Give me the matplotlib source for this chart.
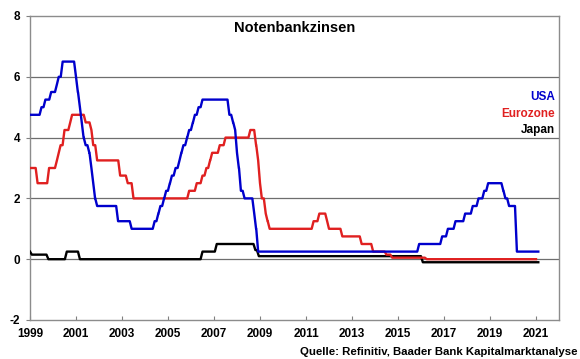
import matplotlib
matplotlib.use("Agg")
import matplotlib.pyplot as plt

# Change dates (decimal years) and policy rates (%)
usa_dates = [1999.0, 1999.5, 1999.67, 1999.92, 2000.17, 2000.25, 2000.42,
             2001.0, 2001.08, 2001.17, 2001.25, 2001.33, 2001.42, 2001.58,
             2001.67, 2001.75, 2001.83, 2001.92, 2002.83, 2003.42,
             2004.42, 2004.58, 2004.67, 2004.83, 2004.92, 2005.08, 2005.17,
             2005.33, 2005.5, 2005.58, 2005.67, 2005.83, 2005.92, 2006.08,
             2006.17, 2006.33, 2006.5, 2007.67, 2007.83, 2007.92, 2008.0,
             2008.08, 2008.17, 2008.33, 2008.75, 2008.83, 2008.92,
             2015.92, 2016.92, 2017.17, 2017.5, 2017.92, 2018.25, 2018.5,
             2018.75, 2018.92, 2019.58, 2019.67, 2019.83, 2020.17, 2021.1]
usa_rates = [4.75, 5.0, 5.25, 5.5, 5.75, 6.0, 6.5,
             6.0, 5.5, 5.0, 4.5, 4.0, 3.75, 3.5,
             3.0, 2.5, 2.0, 1.75, 1.25, 1.0,
             1.25, 1.5, 1.75, 2.0, 2.25, 2.5, 2.75,
             3.0, 3.25, 3.5, 3.75, 4.0, 4.25, 4.5,
             4.75, 5.0, 5.25, 4.75, 4.5, 4.25, 3.5,
             3.0, 2.25, 2.0, 1.5, 1.0, 0.25,
             0.5, 0.75, 1.0, 1.25, 1.5, 1.75, 2.0,
             2.25, 2.5, 2.25, 2.0, 1.75, 0.25, 0.25]

ez_dates = [1999.0, 1999.33, 1999.83, 2000.17, 2000.25, 2000.33, 2000.5,
            2000.75, 2000.83, 2001.42, 2001.67, 2001.75, 2001.92, 2002.92,
            2003.25, 2003.5, 2005.92, 2006.25, 2006.5, 2006.67, 2006.83,
            2006.92, 2007.25, 2007.5, 2008.58, 2008.83, 2008.92, 2009.0,
            2009.08, 2009.25, 2009.33, 2009.42, 2011.33, 2011.58, 2011.92,
            2012.0, 2012.58, 2013.42, 2013.92, 2014.5, 2014.75, 2016.25,
            2021.0]
ez_rates = [3.0, 2.5, 3.0, 3.25, 3.5, 3.75, 4.25,
            4.5, 4.75, 4.5, 4.25, 3.75, 3.25, 2.75,
            2.5, 2.0, 2.25, 2.5, 2.75, 3.0, 3.25,
            3.5, 3.75, 4.0, 4.25, 3.75, 3.25, 2.5,
            2.0, 1.5, 1.25, 1.0, 1.25, 1.5, 1.25,
            1.0, 0.75, 0.5, 0.25, 0.15, 0.05, 0.0,
            0.0]

jp_dates = [1999.0, 1999.08, 1999.8, 2000.6, 2001.17, 2006.5, 2007.12,
            2008.8, 2008.95, 2016.08, 2021.1]
jp_rates = [0.25, 0.15, 0.0, 0.25, 0.0, 0.25, 0.5,
            0.3, 0.1, -0.1, -0.1]

year_ticks = list(range(1999, 2022, 2))
y_ticks = [-2, 0, 2, 4, 6, 8]


def monthly_path(dates, rates, step=1/12):
    """Rate held until the month before a change, then moves to the new level
    over one monthly sample (as a line through monthly observations)."""
    xs, ys = [dates[0]], [rates[0]]
    for i in range(1, len(dates)):
        prev_end = max(dates[i] - step, xs[-1])
        if rates[i] != rates[i - 1]:
            xs.append(prev_end)
            ys.append(rates[i - 1])
        xs.append(dates[i])
        ys.append(rates[i])
    return xs, ys


plt.rcParams['font.family'] = ['Liberation Sans', 'DejaVu Sans']
plt.rcParams['font.weight'] = 'bold'

fig = plt.figure(figsize=(5.8, 3.59), dpi=100)
ax = fig.add_axes([30/580, 1-320/359, 529/580, 304/359])

grid_c = '#6e6e6e'
for yv in [0, 2, 4, 6]:
    ax.axhline(yv, color=grid_c, lw=0.9, zorder=1)

for d, r, c, z in [(jp_dates, jp_rates, '#000000', 3),
                   (ez_dates, ez_rates, '#e02020', 4),
                   (usa_dates, usa_rates, '#0000cc', 5)]:
    xs, ys = monthly_path(d, r)
    ax.plot(xs, ys, color=c, lw=1.7, zorder=z, solid_joinstyle='round')

ax.set_xlim(1999, 2022)
ax.set_ylim(-2, 8)
ax.set_xticks(year_ticks)
ax.set_xticklabels([str(y) for y in year_ticks])
ax.set_yticks(y_ticks)
ax.set_yticklabels([str(y) for y in y_ticks])
ax.tick_params(axis='x', direction='in', length=3, width=0.8, color='#808080',
               labelsize=8.5, pad=6)
ax.tick_params(axis='y', direction='out', length=3, width=0.8, color='#808080',
               labelsize=8.5, pad=4)
for lab in ax.get_xticklabels() + ax.get_yticklabels():
    lab.set_fontweight('bold')

for s in ax.spines.values():
    s.set_color('#8c8c8c')
    s.set_linewidth(1.0)

ax.text(0.5, 0.962, 'Notenbankzinsen', transform=ax.transAxes, ha='center',
        va='center', fontsize=10.5, fontweight='bold', color='black')
ax.text(0.992, 0.734, 'USA', transform=ax.transAxes, ha='right', va='center',
        fontsize=8.5, fontweight='bold', color='#0000cc')
ax.text(0.992, 0.678, 'Eurozone', transform=ax.transAxes, ha='right', va='center',
        fontsize=8.5, fontweight='bold', color='#e02020')
ax.text(0.992, 0.625, 'Japan', transform=ax.transAxes, ha='right', va='center',
        fontsize=8.5, fontweight='bold', color='#000000')

fig.text(0.995, 1-352/359, 'Quelle: Refinitiv, Baader Bank Kapitalmarktanalyse',
         ha='right', va='center', fontsize=8.2, fontweight='bold', color='black')

fig.savefig('out.png', dpi=100)
